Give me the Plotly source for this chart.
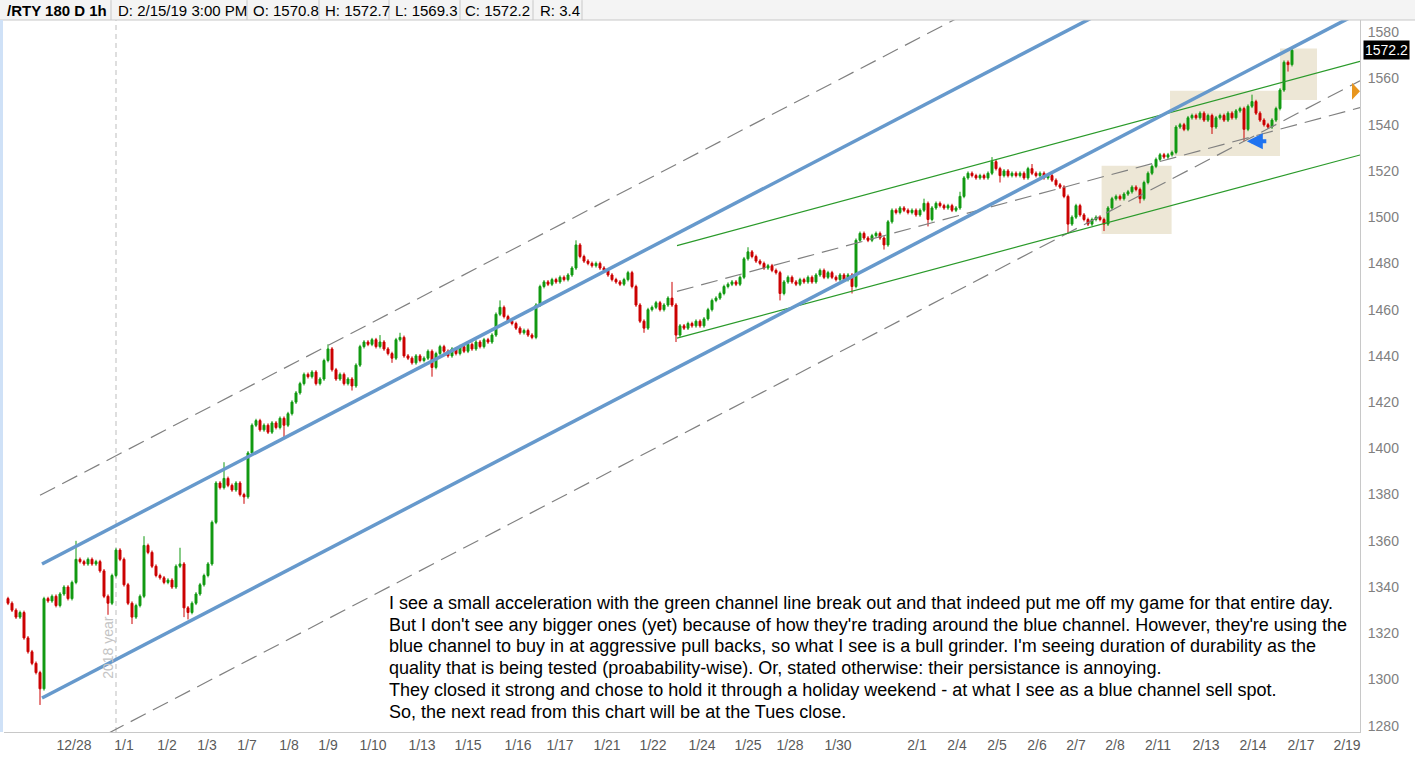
import plotly.graph_objects as go

# ---- hourly /RTY closes (one value per bar) ----
closes = [
    1333, 1330, 1327, 1329, 1318, 1312, 1307, 1303, 1296, 1335,
    1334, 1336, 1332, 1337, 1340, 1335, 1342, 1352, 1351, 1350,
    1352, 1350, 1351, 1347, 1336, 1333, 1345, 1356, 1352, 1341,
    1333, 1327, 1332, 1336, 1358, 1355, 1349, 1345, 1344, 1342,
    1343, 1340, 1349, 1350, 1331, 1329, 1333, 1337, 1341, 1345,
    1350, 1368, 1385, 1383, 1387, 1384, 1382, 1385, 1380, 1379,
    1398, 1410, 1412, 1408, 1410, 1407, 1411, 1409, 1413, 1410,
    1415, 1420, 1424, 1428, 1432, 1431, 1433, 1428, 1430, 1438,
    1443, 1434, 1430, 1432, 1428, 1430, 1427, 1436, 1444, 1446,
    1445, 1447, 1444, 1446, 1443, 1441, 1439, 1447, 1448, 1440,
    1439, 1437, 1440, 1438, 1439, 1442, 1435, 1441, 1444, 1442,
    1440, 1443, 1441, 1444, 1442, 1445, 1443, 1446, 1444, 1447,
    1446, 1449, 1458, 1461, 1457, 1455, 1454, 1452, 1450, 1451,
    1449, 1448, 1462, 1470, 1472, 1471, 1473, 1472, 1474, 1473,
    1475, 1478, 1488, 1483, 1481, 1480, 1479, 1480, 1478, 1477,
    1475, 1473, 1472, 1471, 1473, 1476, 1470, 1462, 1455, 1452,
    1460, 1461, 1463, 1460, 1462, 1465, 1462, 1449, 1453, 1452,
    1454, 1453, 1455, 1453, 1456, 1460, 1464, 1465, 1467, 1470,
    1471, 1472, 1471, 1474, 1482, 1485, 1483, 1481, 1480, 1478,
    1479, 1477, 1476, 1467, 1472, 1474, 1472, 1471, 1473, 1472,
    1474, 1472, 1475, 1477, 1474, 1476, 1474, 1473, 1475, 1473,
    1475, 1470, 1490, 1493, 1491, 1490, 1492, 1493, 1491, 1488,
    1498, 1503, 1502, 1504, 1503, 1502, 1503, 1501, 1503, 1506,
    1499, 1504, 1506, 1505, 1504, 1505, 1503, 1504, 1509, 1517,
    1519, 1518, 1517, 1518, 1517, 1519, 1524, 1521, 1518, 1520,
    1518, 1519, 1518, 1519, 1517, 1521, 1519, 1518, 1519, 1517,
    1518, 1516, 1514, 1513, 1509, 1497, 1500, 1505, 1501, 1499,
    1497, 1499, 1500, 1499, 1497, 1504, 1508, 1509, 1508, 1510,
    1511, 1513, 1512, 1508, 1515, 1519, 1522, 1525, 1527, 1526,
    1527, 1528, 1539, 1540, 1538, 1543, 1544, 1543, 1545, 1542,
    1544, 1539, 1543, 1544, 1542, 1545, 1543, 1546, 1547, 1538,
    1548, 1550, 1545, 1542, 1540, 1539, 1542, 1547, 1555, 1567,
    1566, 1572.2,
]
first_open = 1335

# bars with long wicks (bar index, price)
spike_hi_idx = [17, 34, 43, 54, 80, 93, 98, 123, 142, 166, 185, 229, 238, 246, 256, 311]
spike_hi_val = [1360, 1362, 1357, 1394, 1445, 1449, 1450, 1464, 1490, 1472, 1487, 1508, 1511, 1526, 1523, 1553]
spike_lo_idx = [8, 25, 31, 44, 45, 59, 69, 86, 96, 106, 159, 167, 193, 211, 219, 230, 248, 265, 274, 283, 301, 309, 320]
spike_lo_val = [1289, 1328, 1324, 1327, 1326, 1376, 1404, 1425, 1437, 1431, 1450, 1446, 1464, 1467, 1486, 1496, 1515, 1493, 1494, 1506, 1536, 1533, 1563]

# x-axis session labels and the bar they sit under
tick_text = ["12/28", "1/1", "1/2", "1/3", "1/7", "1/8", "1/9", "1/10", "1/13", "1/15",
             "1/16", "1/17", "1/21", "1/22", "1/24", "1/25", "1/28", "1/30", "2/1", "2/4",
             "2/5", "2/6", "2/7", "2/8", "2/11", "2/13", "2/14", "2/17", "2/19"]
tick_pos = [16.5, 29, 39.75, 49.75, 59.75, 70.25, 80, 91.25, 103.5, 115,
            127.5, 138, 149.75, 161.25, 173.5, 185, 195.5, 207.5, 227.25, 237.25,
            247.25, 257.25, 267, 276.75, 287.5, 299.5, 311.25, 323.25, 334.75]

# drawn trendlines: (bar0, price0, bar1, price1)
blue_lines = [(8.5, 1350.0, 338, 1646.6), (8.5, 1292.0, 338, 1588.6)]
gray_lines = [(8, 1379.7, 338, 1676.7), (8.5, 1261.8, 338, 1559.0),
              (167.25, 1467.9, 338, 1547.4)]
green_lines = [(167.25, 1487.7, 338, 1567.4), (167.25, 1447.7, 338, 1526.9)]
# highlight boxes: (bar0, bar1, price_lo, price_hi)
boxes = [(273.4, 290.9, 1492.7, 1522.2), (290.5, 318.0, 1526.5, 1554.7),
         (318.0, 327.25, 1550.7, 1573.0)]
year_bar = 27
arrow_bar, arrow_price = 309.7, 1532.9
alert_price = 1554.5
last_price = 1572.2

header = ["/RTY 180 D 1h", "D: 2/15/19 3:00 PM", "O: 1570.8", "H: 1572.7",
          "L: 1569.3", "C: 1572.2", "R: 3.4"]
note = [
    "I see a small acceleration with the green channel line break out and that indeed put me off my game for that entire day.",
    "But I don't see any bigger ones (yet) because of how they're trading around the blue channel. However, they're using the",
    "blue channel to buy in at aggressive pull backs, so what I see is a bull grinder. I'm seeing duration of durability as the",
    "quality that is being tested (proabability-wise). Or, stated otherwise: their persistance is annoying.",
    "They closed it strong and chose to hold it through a holiday weekend - at what I see as a blue channel sell spot.",
    "So, the next read from this chart will be at the Tues close.",
]

# ---- build OHLC ----
n = len(closes)
opens = [first_open] + closes[:-1]
highs = [max(o, c) + 0.8 for o, c in zip(opens, closes)]
lows = [min(o, c) - 0.8 for o, c in zip(opens, closes)]
for i, v in zip(spike_hi_idx, spike_hi_val):
    highs[i] = max(highs[i], v)
for i, v in zip(spike_lo_idx, spike_lo_val):
    lows[i] = min(lows[i], v)
bars = list(range(n))

W, H = 1415, 757
L, R, T, B = 4, 55, 20, 21
PW, PH = W - L - R, H - T - B


def px(x):  # page pixel -> paper x
    return (x - L) / PW


def py(y):  # page pixel -> paper y
    return (H - B - y) / PH


FONT = "Liberation Sans, Arial, sans-serif"

fig = go.Figure()
fig.add_trace(go.Candlestick(
    x=bars, open=opens, high=highs, low=lows, close=closes,
    increasing=dict(line=dict(color="#119911", width=1), fillcolor="#119911"),
    decreasing=dict(line=dict(color="#cc0000", width=1), fillcolor="#cc0000"),
    whiskerwidth=0, hoverinfo="skip", showlegend=False,
))

shapes = []
for b0, b1, lo, hi in boxes:
    shapes.append(dict(type="rect", xref="x", yref="y", x0=b0, x1=b1, y0=lo, y1=hi,
                       fillcolor="rgb(237,231,214)", line=dict(width=0), layer="below"))
shapes.append(dict(type="line", xref="x", yref="paper", x0=year_bar, x1=year_bar, y0=0, y1=1,
                   line=dict(color="#bdbdbd", width=1, dash="5px,4px"), layer="below"))
for x0, y0, x1, y1 in gray_lines:
    shapes.append(dict(type="line", xref="x", yref="y", x0=x0, y0=y0, x1=x1, y1=y1,
                       line=dict(color="#808080", width=1.2, dash="17px,8px")))
for x0, y0, x1, y1 in green_lines:
    shapes.append(dict(type="line", xref="x", yref="y", x0=x0, y0=y0, x1=x1, y1=y1,
                       line=dict(color="#2a9a2a", width=1.2)))
for x0, y0, x1, y1 in blue_lines:
    shapes.append(dict(type="line", xref="x", yref="y", x0=x0, y0=y0, x1=x1, y1=y1,
                       line=dict(color="#6699cc", width=3.5)))

# alert marker on the right edge
shapes.append(dict(type="path", xref="paper", yref="y",
                   path=f"M {px(1352)},{alert_price + 3.7} L {px(1360)},{alert_price} "
                        f"L {px(1352)},{alert_price - 3.7} Z",
                   fillcolor="#e8961e", line=dict(width=0)))

# header strip
shapes.append(dict(type="rect", xref="paper", yref="paper", x0=px(0), x1=px(W), y0=py(20), y1=py(0),
                   fillcolor="#f4f4f4", line=dict(width=0)))
shapes.append(dict(type="line", xref="paper", yref="paper", x0=px(0), x1=px(W), y0=py(20), y1=py(20),
                   line=dict(color="#c8c8c8", width=1)))
shapes.append(dict(type="rect", xref="paper", yref="paper", x0=px(0), x1=px(3), y0=0, y1=py(20),
                   fillcolor="#cfe1f7", line=dict(width=0)))
header_x = [5, 116, 251, 323, 393, 463, 538]
sep_x = [111, 247, 319, 389, 460, 533, 582]
for sx in sep_x:
    shapes.append(dict(type="line", xref="paper", yref="paper", x0=px(sx), x1=px(sx),
                       y0=py(20), y1=py(0), line=dict(color="#c8c8c8", width=1)))

annotations = []
for k, (hx, txt) in enumerate(zip(header_x, header)):
    annotations.append(dict(xref="paper", yref="paper", x=px(hx), y=py(10), xanchor="left",
                            yanchor="middle", showarrow=False,
                            text=f"<b>{txt}</b>" if k == 0 else txt,
                            font=dict(family=FONT, size=15, color="#000000")))
for k, line in enumerate(note):
    annotations.append(dict(xref="paper", yref="paper", x=px(387), y=py(606 + 21.9 * k),
                            xanchor="left", yanchor="middle", showarrow=False, text=line,
                            font=dict(family=FONT, size=18, color="#000000")))
annotations.append(dict(xref="x", yref="paper", x=year_bar - 2, y=py(685), textangle=-90,
                        showarrow=False, text="2018 year",
                        font=dict(family=FONT, size=14, color="#c4c4c4")))
annotations.append(dict(xref="x", yref="y", x=arrow_bar, y=arrow_price, ax=21, ay=0,
                        showarrow=True, arrowhead=2, arrowsize=0.8, arrowwidth=4,
                        arrowcolor="#1f73f0", text=""))
annotations.append(dict(xref="paper", yref="y", x=1, y=last_price, xanchor="left", xshift=3,
                        showarrow=False, text=f"{last_price:.1f}",
                        bgcolor="#000000", borderpad=1,
                        font=dict(family=FONT, size=14, color="#ffffff")))

fig.update_layout(
    width=W, height=H,
    margin=dict(l=L, r=R, t=T, b=B),
    paper_bgcolor="white", plot_bgcolor="white",
    shapes=shapes, annotations=annotations,
    xaxis=dict(range=[-1, 338], tickmode="array", tickvals=tick_pos, ticktext=tick_text,
               showgrid=False, zeroline=False, showline=True, linecolor="#c8c8c8",
               ticks="", tickfont=dict(family=FONT, size=14, color="#5a5a5a"),
               rangeslider=dict(visible=False), mirror=False),
    yaxis=dict(side="right", range=[1277.3, 1585.3], dtick=20, tick0=1280,
               showgrid=False, zeroline=False, showline=True, linecolor="#c8c8c8",
               ticks="", ticklabelstandoff=4,
               tickfont=dict(family=FONT, size=14, color="#808080")),
)

# the page's default body margin would shift the figure by 8px
fig.write_html("out.html", config={"displayModeBar": False},
               post_script="document.body.style.margin='0';")
